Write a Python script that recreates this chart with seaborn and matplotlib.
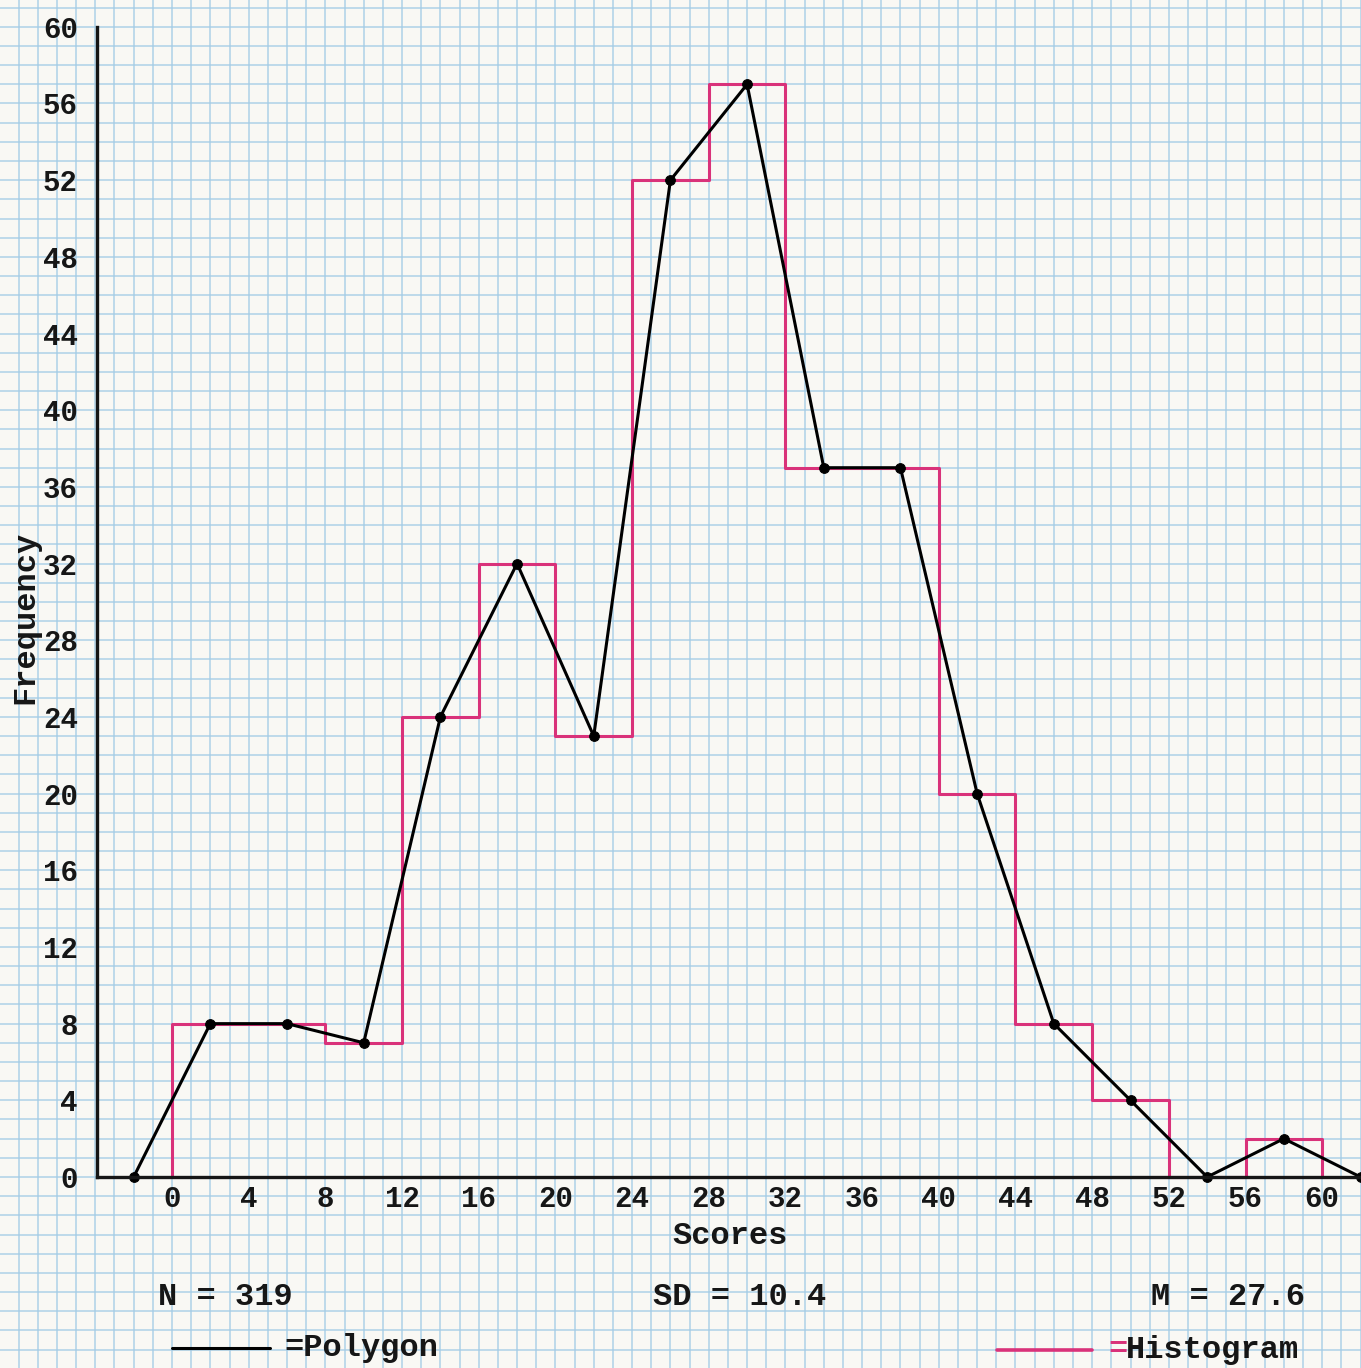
import numpy as np
import pandas as pd
import seaborn as sns
import matplotlib.pyplot as plt

sns.set_style("white")
plt.rcParams['font.family'] = ['Liberation Mono', 'DejaVu Sans Mono']

# ----- data -----
bin_edges = list(range(0, 64, 4))
frequencies = [8, 8, 7, 24, 32, 23, 52, 57, 37, 37, 20, 8, 4, 0, 2]
poly_x = [-2, 2, 6, 10, 14, 18, 22, 26, 30, 34, 38, 42, 46, 50, 54, 58, 62]
poly_y = [0] + frequencies + [0]
x_ticks = list(range(0, 61, 4))
y_ticks = list(range(0, 61, 4))

hist_df = pd.DataFrame({"mid": [e + 2 for e in bin_edges[:-1]], "freq": frequencies})
poly_df = pd.DataFrame({"score": poly_x, "freq": poly_y})

paper = "#f9f8f4"
grid_blue = "#a3cbe6"
pink = "#d9327a"
ink = "#161616"

W, H = 1361, 1368
fig = plt.figure(figsize=(W / 100, H / 100), dpi=100, facecolor=paper)

# main axes geometry (pixels)
px_unit = 19.17
x_zero_px = 172.0
y_zero_px = 1177.0
xmin, xmax = -3.9, 62.0
ymin, ymax = 0, 60

left = (x_zero_px + xmin * px_unit) / W
right = (x_zero_px + xmax * px_unit) / W
bottom = (H - y_zero_px) / H
top = (H - (y_zero_px - ymax * px_unit)) / H

# ----- graph paper background -----
bg = fig.add_axes([0, 0, 1, 1], zorder=0)
bg.set_facecolor(paper)
bx0 = -x_zero_px / px_unit
bx1 = (W - x_zero_px) / px_unit
by0 = -(H - y_zero_px) / px_unit
by1 = y_zero_px / px_unit
bg.set_xlim(bx0, bx1)
bg.set_ylim(by0, by1)
for v in np.arange(np.floor(bx0), bx1 + 1):
    bg.axvline(v, color=grid_blue, lw=1.2, alpha=0.8)
for v in np.arange(np.floor(by0), by1 + 1):
    bg.axhline(v, color=grid_blue, lw=1.2, alpha=0.8)
bg.axis("off")

# ----- main chart -----
ax = fig.add_axes([left, bottom, right - left, top - bottom], zorder=2)
ax.set_facecolor("none")

sns.histplot(data=hist_df, x="mid", weights="freq", bins=bin_edges,
             element="step", fill=False, color=pink, linewidth=2.2, ax=ax)
# outer edges of the first and last bars
ax.vlines([bin_edges[0], bin_edges[-1]], 0, [frequencies[0], frequencies[-1]],
          color=pink, linewidth=2.2)
sns.lineplot(data=poly_df, x="score", y="freq", color="black", linewidth=2.2,
             marker="o", markersize=7, markeredgecolor="black", ax=ax)
for line in ax.lines:
    line.set_clip_on(False)

ax.set_xlim(xmin, xmax)
ax.set_ylim(ymin, ymax)
ax.set_xticks(x_ticks)
ax.set_yticks(y_ticks)
ax.tick_params(direction="in", length=9, width=2, labelsize=21, colors=ink)
ax.tick_params(axis="x", pad=6)
ax.tick_params(axis="y", pad=14)
for lab in ax.get_xticklabels() + ax.get_yticklabels():
    lab.set_fontweight("bold")
for s in ["top", "right"]:
    ax.spines[s].set_visible(False)
for s in ["left", "bottom"]:
    ax.spines[s].set_linewidth(2.4)
    ax.spines[s].set_color(ink)
ax.set_xlabel("")
ax.set_ylabel("")

# ----- texts -----
txt = dict(fontsize=23, color=ink, va="center", fontweight="bold")
fig.text(25 / W, 1 - 617 / H, "Frequency", rotation=90, ha="center", **txt)
fig.text(730 / W, 1 - 1236 / H, "Scores", ha="center", **txt)
fig.text(158 / W, 1 - 1297 / H, "N = 319", ha="left", **txt)
fig.text(653 / W, 1 - 1297 / H, "SD = 10.4", ha="left", **txt)
fig.text(1151 / W, 1 - 1297 / H, "M = 27.6", ha="left", **txt)

leg = fig.add_axes([0, 0, 1, 1], zorder=3)
leg.set_xlim(0, W)
leg.set_ylim(H, 0)
leg.axis("off")
leg.plot([172, 270], [1348, 1348], color="black", lw=2.2)
leg.text(284, 1348, "=Polygon", ha="left", **txt)
leg.plot([997, 1092], [1350, 1350], color=pink, lw=2.6)
leg.text(1108, 1350, "=", ha="left", fontsize=23, color=pink, va="center", fontweight="bold")
leg.text(1126, 1350, "Histogram", ha="left", **txt)

fig.savefig("out.png", dpi=100, facecolor=paper)
